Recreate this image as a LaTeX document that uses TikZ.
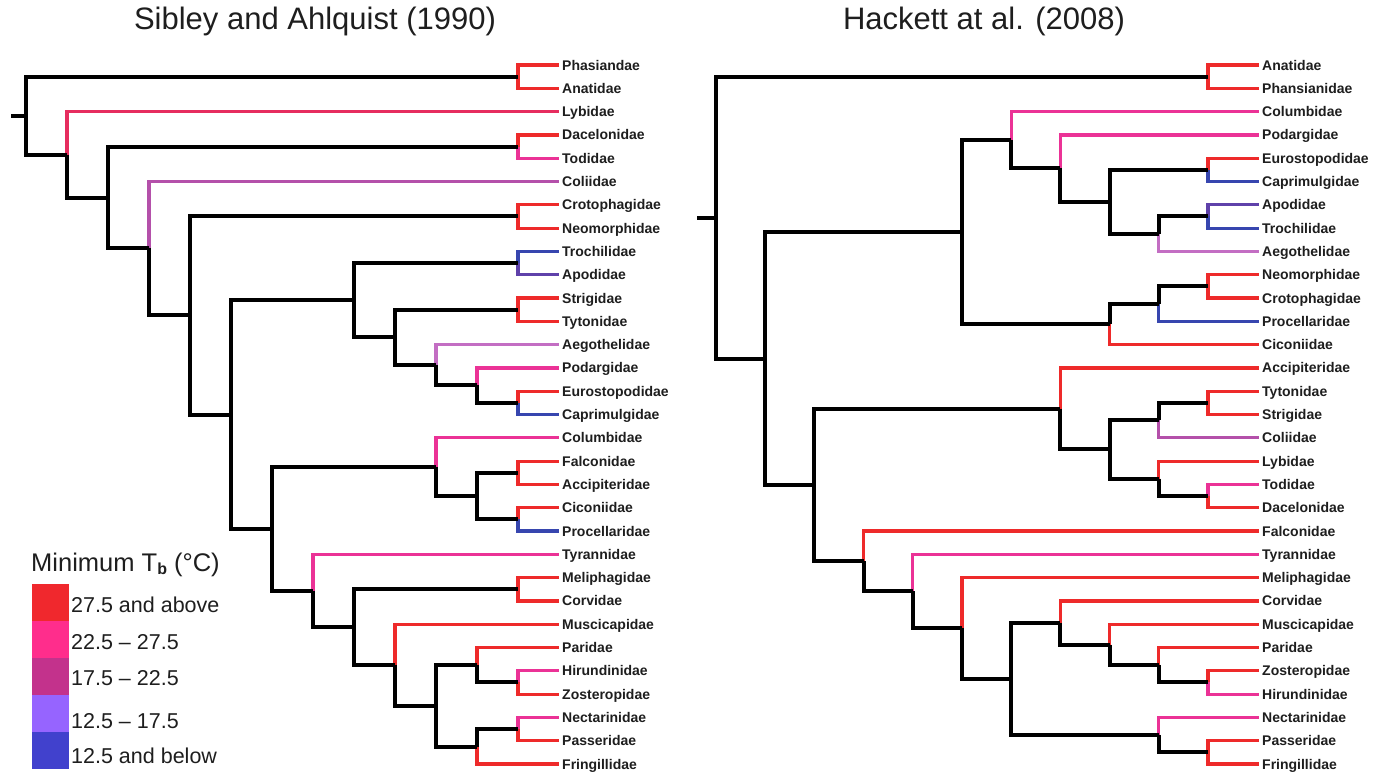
\documentclass[tikz,border=0pt]{standalone}
\usepackage{fontspec}
\setmainfont{Liberation Sans}
\definecolor{redc}{RGB}{238,42,42}
\definecolor{pinkc}{RGB}{235,50,150}
\definecolor{lybc}{RGB}{230,45,95}
\definecolor{mauvec}{RGB}{180,80,170}
\definecolor{mauvetwo}{RGB}{195,110,195}
\definecolor{violetc}{RGB}{95,65,170}
\definecolor{bluec}{RGB}{55,70,175}
\definecolor{legred}{RGB}{240,40,45}
\definecolor{legpink}{RGB}{255,45,140}
\definecolor{legmag}{RGB}{195,50,140}
\definecolor{legviolet}{RGB}{150,100,255}
\definecolor{legblue}{RGB}{65,65,205}
\definecolor{txt}{RGB}{30,30,30}
\newcommand\E[3]{\draw[#1] (#2) |- (#3);}
\begin{document}
\begin{tikzpicture}[x=1pt,y=-1pt,
  blk/.style={draw=black,line width=4pt},
  leafedge/.style={draw=#1,line width=3.2pt},
  lab/.style={anchor=west,inner xsep=3pt,inner ysep=0pt,text height=10pt,text depth=0pt,
    font=\bfseries\fontsize{14}{15}\selectfont,text=txt},
  ttl/.style={font=\fontsize{31}{33}\selectfont,text=txt,inner sep=0pt},
  legtxt/.style={anchor=west,inner sep=0pt,font=\fontsize{21.5}{22}\selectfont,text=txt}]
\useasboundingbox (0,0) rectangle (1374,777);
\fill[white] (0,0) rectangle (1374,777);

% titles
\node[ttl] (t1) at (315,21) {Sibley and Ahlquist (1990)};
\node[ttl] (t2) at (984,21) {Hackett at al. (2008)};

% ===== left leaves =====
\node[lab] (L0) at (559,65.0) {Phasiandae};
\node[lab] (L1) at (559,88.3) {Anatidae};
\node[lab] (L2) at (559,111.6) {Lybidae};
\node[lab] (L3) at (559,134.9) {Dacelonidae};
\node[lab] (L4) at (559,158.2) {Todidae};
\node[lab] (L5) at (559,181.5) {Coliidae};
\node[lab] (L6) at (559,204.8) {Crotophagidae};
\node[lab] (L7) at (559,228.1) {Neomorphidae};
\node[lab] (L8) at (559,251.4) {Trochilidae};
\node[lab] (L9) at (559,274.7) {Apodidae};
\node[lab] (L10) at (559,298.0) {Strigidae};
\node[lab] (L11) at (559,321.3) {Tytonidae};
\node[lab] (L12) at (559,344.6) {Aegothelidae};
\node[lab] (L13) at (559,367.9) {Podargidae};
\node[lab] (L14) at (559,391.2) {Eurostopodidae};
\node[lab] (L15) at (559,414.5) {Caprimulgidae};
\node[lab] (L16) at (559,437.8) {Columbidae};
\node[lab] (L17) at (559,461.1) {Falconidae};
\node[lab] (L18) at (559,484.4) {Accipiteridae};
\node[lab] (L19) at (559,507.7) {Ciconiidae};
\node[lab] (L20) at (559,531.0) {Procellaridae};
\node[lab] (L21) at (559,554.3) {Tyrannidae};
\node[lab] (L22) at (559,577.6) {Meliphagidae};
\node[lab] (L23) at (559,600.9) {Corvidae};
\node[lab] (L24) at (559,624.2) {Muscicapidae};
\node[lab] (L25) at (559,647.5) {Paridae};
\node[lab] (L26) at (559,670.8) {Hirundinidae};
\node[lab] (L27) at (559,694.1) {Zosteropidae};
\node[lab] (L28) at (559,717.4) {Nectarinidae};
\node[lab] (L29) at (559,740.7) {Passeridae};
\node[lab] (L30) at (559,764.0) {Fringillidae};

% left internal nodes
\coordinate (la1) at (518,76.65);
\coordinate (la2) at (518,146.55);
\coordinate (la3) at (518,216.45);
\coordinate (la4) at (518,263.05);
\coordinate (la5) at (518,309.65);
\coordinate (la6) at (518,402.85);
\coordinate (la7) at (518,472.75);
\coordinate (la8) at (518,519.35);
\coordinate (la9) at (518,589.25);
\coordinate (la10) at (518,682.45);
\coordinate (la11) at (518,729.05);
\coordinate (lG4) at (477,385.38);
\coordinate (lG3) at (436,364.99);
\coordinate (lG2) at (395,337.32);
\coordinate (lG) at (354,300.19);
\coordinate (lI2) at (477,496.05);
\coordinate (lI) at (436,466.93);
\coordinate (lN) at (477,664.98);
\coordinate (lO) at (477,746.53);
\coordinate (lM) at (436,705.75);
\coordinate (lL) at (395,664.98);
\coordinate (lK) at (354,627.11);
\coordinate (lJ) at (313,590.71);
\coordinate (lH) at (272,528.82);
\coordinate (lF) at (231,414.5);
\coordinate (lE) at (190,315.48);
\coordinate (lD) at (149,248.49);
\coordinate (lC) at (108,197.52);
\coordinate (lB) at (67,154.56);
\coordinate (lR) at (26,115.6);
\coordinate (lS) at (11,115.6);

% left coloured leaf edges
\E{leafedge=redc}{la1}{L0.west}
\E{leafedge=redc}{la1}{L1.west}
\E{leafedge=lybc}{lB}{L2.west}
\E{leafedge=redc}{la2}{L3.west}
\E{leafedge=pinkc}{la2}{L4.west}
\E{leafedge=mauvec}{lD}{L5.west}
\E{leafedge=redc}{la3}{L6.west}
\E{leafedge=redc}{la3}{L7.west}
\E{leafedge=bluec}{la4}{L8.west}
\E{leafedge=violetc}{la4}{L9.west}
\E{leafedge=redc}{la5}{L10.west}
\E{leafedge=redc}{la5}{L11.west}
\E{leafedge=mauvetwo}{lG3}{L12.west}
\E{leafedge=pinkc}{lG4}{L13.west}
\E{leafedge=redc}{la6}{L14.west}
\E{leafedge=bluec}{la6}{L15.west}
\E{leafedge=pinkc}{lI}{L16.west}
\E{leafedge=redc}{la7}{L17.west}
\E{leafedge=redc}{la7}{L18.west}
\E{leafedge=redc}{la8}{L19.west}
\E{leafedge=bluec}{la8}{L20.west}
\E{leafedge=pinkc}{lJ}{L21.west}
\E{leafedge=redc}{la9}{L22.west}
\E{leafedge=redc}{la9}{L23.west}
\E{leafedge=redc}{lL}{L24.west}
\E{leafedge=redc}{lN}{L25.west}
\E{leafedge=pinkc}{la10}{L26.west}
\E{leafedge=redc}{la10}{L27.west}
\E{leafedge=pinkc}{la11}{L28.west}
\E{leafedge=redc}{la11}{L29.west}
\E{leafedge=redc}{lO}{L30.west}

% left black internal edges
\draw[blk] (lS) -- (lR);
\E{blk}{lR}{la1}
\E{blk}{lR}{lB}
\E{blk}{lB}{lC}
\E{blk}{lC}{la2}
\E{blk}{lC}{lD}
\E{blk}{lD}{lE}
\E{blk}{lE}{la3}
\E{blk}{lE}{lF}
\E{blk}{lF}{lG}
\E{blk}{lF}{lH}
\E{blk}{lG}{la4}
\E{blk}{lG}{lG2}
\E{blk}{lG2}{la5}
\E{blk}{lG2}{lG3}
\E{blk}{lG3}{lG4}
\E{blk}{lG4}{la6}
\E{blk}{lH}{lI}
\E{blk}{lH}{lJ}
\E{blk}{lI}{lI2}
\E{blk}{lI2}{la7}
\E{blk}{lI2}{la8}
\E{blk}{lJ}{lK}
\E{blk}{lK}{la9}
\E{blk}{lK}{lL}
\E{blk}{lL}{lM}
\E{blk}{lM}{lN}
\E{blk}{lM}{lO}
\E{blk}{lN}{la10}
\E{blk}{lO}{la11}

% ===== right leaves =====
\node[lab] (R0) at (1259,65.0) {Anatidae};
\node[lab] (R1) at (1259,88.3) {Phansianidae};
\node[lab] (R2) at (1259,111.6) {Columbidae};
\node[lab] (R3) at (1259,134.9) {Podargidae};
\node[lab] (R4) at (1259,158.2) {Eurostopodidae};
\node[lab] (R5) at (1259,181.5) {Caprimulgidae};
\node[lab] (R6) at (1259,204.8) {Apodidae};
\node[lab] (R7) at (1259,228.1) {Trochilidae};
\node[lab] (R8) at (1259,251.4) {Aegothelidae};
\node[lab] (R9) at (1259,274.7) {Neomorphidae};
\node[lab] (R10) at (1259,298.0) {Crotophagidae};
\node[lab] (R11) at (1259,321.3) {Procellaridae};
\node[lab] (R12) at (1259,344.6) {Ciconiidae};
\node[lab] (R13) at (1259,367.9) {Accipiteridae};
\node[lab] (R14) at (1259,391.2) {Tytonidae};
\node[lab] (R15) at (1259,414.5) {Strigidae};
\node[lab] (R16) at (1259,437.8) {Coliidae};
\node[lab] (R17) at (1259,461.1) {Lybidae};
\node[lab] (R18) at (1259,484.4) {Todidae};
\node[lab] (R19) at (1259,507.7) {Dacelonidae};
\node[lab] (R20) at (1259,531.0) {Falconidae};
\node[lab] (R21) at (1259,554.3) {Tyrannidae};
\node[lab] (R22) at (1259,577.6) {Meliphagidae};
\node[lab] (R23) at (1259,600.9) {Corvidae};
\node[lab] (R24) at (1259,624.2) {Muscicapidae};
\node[lab] (R25) at (1259,647.5) {Paridae};
\node[lab] (R26) at (1259,670.8) {Zosteropidae};
\node[lab] (R27) at (1259,694.1) {Hirundinidae};
\node[lab] (R28) at (1259,717.4) {Nectarinidae};
\node[lab] (R29) at (1259,740.7) {Passeridae};
\node[lab] (R30) at (1259,764.0) {Fringillidae};

% right internal nodes
\coordinate (rb1) at (1208,76.65);
\coordinate (rb2) at (1208,169.85);
\coordinate (rb3) at (1208,216.45);
\coordinate (rb4) at (1208,286.35);
\coordinate (rb5) at (1208,402.85);
\coordinate (rb6) at (1208,496.05);
\coordinate (rb7) at (1208,682.45);
\coordinate (rb8) at (1208,752.35);
\coordinate (rc1d) at (1158.8,233.93);
\coordinate (rc1c) at (1109.6,201.89);
\coordinate (rc1b) at (1060.4,168.40);
\coordinate (rc1) at (1011.2,140.0);
\coordinate (rc2a) at (1158.8,303.83);
\coordinate (rc2) at (1109.6,324.21);
\coordinate (rC) at (962,232.11);
\coordinate (re3) at (1158.8,420.33);
\coordinate (re4) at (1158.8,478.58);
\coordinate (re2) at (1109.6,449.45);
\coordinate (rE) at (1060.4,408.68);
\coordinate (rj3) at (1158.8,664.98);
\coordinate (rj2) at (1109.6,644.59);
\coordinate (rJ) at (1060.4,622.75);
\coordinate (rK) at (1158.8,734.88);
\coordinate (rI) at (1011.2,678.81);
\coordinate (rH) at (962,628.21);
\coordinate (rG) at (912.8,591.25);
\coordinate (rF) at (863.6,561.13);
\coordinate (rD) at (814.4,484.9);
\coordinate (rB) at (765.2,358.5);
\coordinate (rR) at (716,217.6);
\coordinate (rS) at (697,217.6);

% right coloured leaf edges
\E{leafedge=redc}{rb1}{R0.west}
\E{leafedge=redc}{rb1}{R1.west}
\E{leafedge=pinkc}{rc1}{R2.west}
\E{leafedge=pinkc}{rc1b}{R3.west}
\E{leafedge=redc}{rb2}{R4.west}
\E{leafedge=bluec}{rb2}{R5.west}
\E{leafedge=violetc}{rb3}{R6.west}
\E{leafedge=bluec}{rb3}{R7.west}
\E{leafedge=mauvetwo}{rc1d}{R8.west}
\E{leafedge=redc}{rb4}{R9.west}
\E{leafedge=redc}{rb4}{R10.west}
\E{leafedge=bluec}{rc2a}{R11.west}
\E{leafedge=redc}{rc2}{R12.west}
\E{leafedge=redc}{rE}{R13.west}
\E{leafedge=redc}{rb5}{R14.west}
\E{leafedge=redc}{rb5}{R15.west}
\E{leafedge=mauvec}{re3}{R16.west}
\E{leafedge=redc}{re4}{R17.west}
\E{leafedge=pinkc}{rb6}{R18.west}
\E{leafedge=redc}{rb6}{R19.west}
\E{leafedge=redc}{rF}{R20.west}
\E{leafedge=pinkc}{rG}{R21.west}
\E{leafedge=redc}{rH}{R22.west}
\E{leafedge=redc}{rJ}{R23.west}
\E{leafedge=redc}{rj2}{R24.west}
\E{leafedge=redc}{rj3}{R25.west}
\E{leafedge=redc}{rb7}{R26.west}
\E{leafedge=pinkc}{rb7}{R27.west}
\E{leafedge=pinkc}{rK}{R28.west}
\E{leafedge=redc}{rb8}{R29.west}
\E{leafedge=redc}{rb8}{R30.west}

% right black internal edges
\draw[blk] (rS) -- (rR);
\E{blk}{rR}{rb1}
\E{blk}{rR}{rB}
\E{blk}{rB}{rC}
\E{blk}{rB}{rD}
\E{blk}{rC}{rc1}
\E{blk}{rC}{rc2}
\E{blk}{rc1}{rc1b}
\E{blk}{rc1b}{rc1c}
\E{blk}{rc1c}{rb2}
\E{blk}{rc1c}{rc1d}
\E{blk}{rc1d}{rb3}
\E{blk}{rc2}{rc2a}
\E{blk}{rc2a}{rb4}
\E{blk}{rD}{rE}
\E{blk}{rD}{rF}
\E{blk}{rE}{re2}
\E{blk}{re2}{re3}
\E{blk}{re2}{re4}
\E{blk}{re3}{rb5}
\E{blk}{re4}{rb6}
\E{blk}{rF}{rG}
\E{blk}{rG}{rH}
\E{blk}{rH}{rI}
\E{blk}{rI}{rJ}
\E{blk}{rI}{rK}
\E{blk}{rJ}{rj2}
\E{blk}{rj2}{rj3}
\E{blk}{rj3}{rb7}
\E{blk}{rK}{rb8}

% ===== legend =====
\node[anchor=west,inner sep=0pt,font=\fontsize{25.5}{27}\selectfont,text=txt] (legtitle) at (31,565)
  {Minimum T\raisebox{-3pt}{\fontsize{16}{16}\selectfont\bfseries b} (°C)};
\fill[legred] (32,584) rectangle (69,621);
\fill[legpink] (32,621) rectangle (69,658);
\fill[legmag] (32,658) rectangle (69,695);
\fill[legviolet] (32,695) rectangle (69,732);
\fill[legblue] (32,732) rectangle (69,769);
\node[legtxt] (g1) at (71,605) {27.5 and above};
\node[legtxt] (g2) at (71,642) {22.5 – 27.5};
\node[legtxt] (g3) at (71,678) {17.5 – 22.5};
\node[legtxt] (g4) at (71,721) {12.5 – 17.5};
\node[legtxt] (g5) at (71,756) {12.5 and below};
\end{tikzpicture}
\end{document}
